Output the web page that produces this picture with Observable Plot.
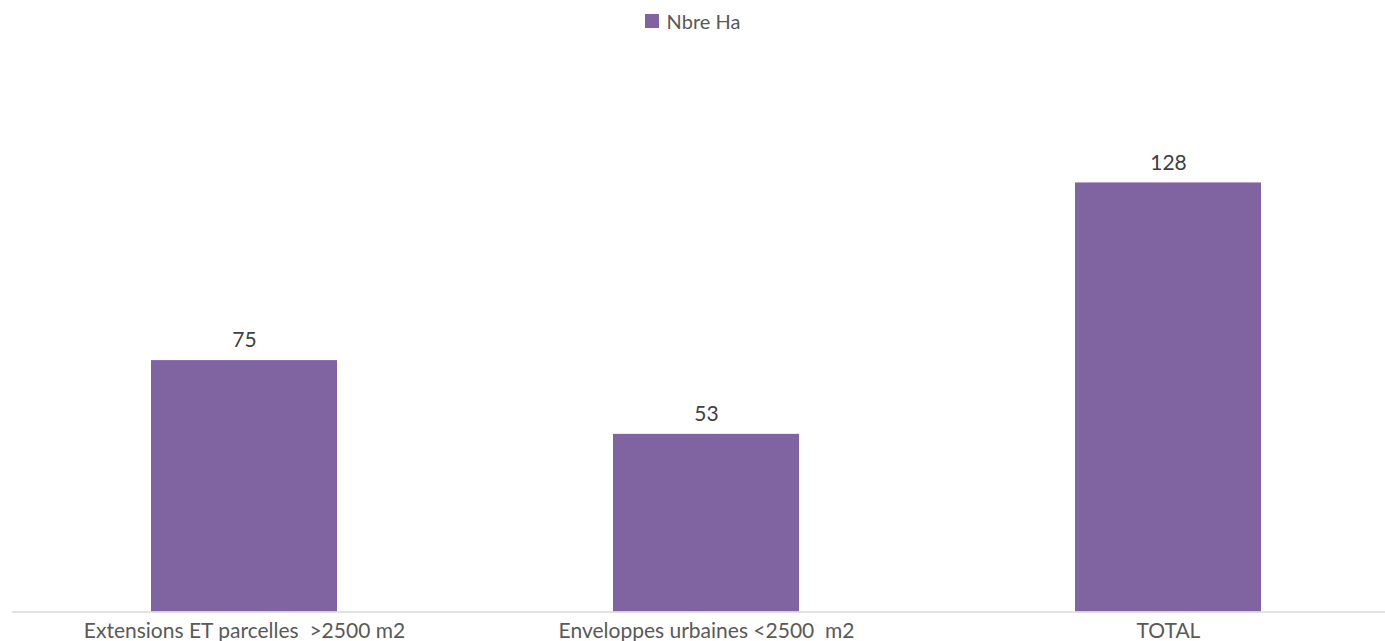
<!DOCTYPE html>
<html>
<head>
<meta charset="utf-8">
<script src="https://cdn.jsdelivr.net/npm/d3@7"></script>
<script src="https://cdn.jsdelivr.net/npm/@observablehq/plot@0.6"></script>
<style>
  html, body { margin: 0; padding: 0; background: #fff; }
  #wrap { position: relative; width: 1385px; height: 641px; overflow: hidden; }
  #legend { position: absolute; top: 9px; left: 0; width: 1385px; display: flex; justify-content: center; align-items: center;
    font-family: Lato, "Open Sans", sans-serif; font-size: 20px; color: #595959; }
  #legend .sw { display: inline-block; width: 14px; height: 14px; background: #8064A2; margin-right: 8px; }
  #chart { position: absolute; top: 0; left: 0; }
</style>
</head>
<body>
<div id="wrap">
  <div id="chart"></div>
  <div id="legend"></div>
</div>
<script>
const categories = ["Extensions ET parcelles  >2500 m2", "Enveloppes urbaines <2500  m2", "TOTAL"];
const values = [75, 53, 128];
const seriesName = "Nbre Ha";
const barColor = "#8064A2";

const data = categories.map((c, i) => ({category: c, value: values[i]}));

const W = 1385, H = 641;
const baseline = 611.5;
const pxPerUnit = 3.352;

const chart = Plot.plot({
  width: W,
  height: H,
  marginTop: baseline - 140 * pxPerUnit,
  marginBottom: H - baseline,
  marginLeft: 12,
  marginRight: 0,
  style: {fontFamily: "Lato, 'Open Sans', sans-serif", fontSize: "21px", color: "#595959", background: "transparent"},
  x: {domain: categories, range: [12, 12 + 3 * 462.5], paddingInner: 0.598, paddingOuter: 0.299, axis: null},
  y: {domain: [0, 140], axis: null},
  marks: [
    Plot.barY(data, {x: "category", y: "value", fill: barColor}),
    Plot.ruleY([0], {stroke: "#d9d9d9", strokeWidth: 1.5}),
    Plot.text(data, {x: "category", y: "value", text: d => String(d.value), dy: -20, fill: "#404040", fontSize: 21}),
    Plot.text(data, {x: "category", y: 0, text: "category", dy: 19, fill: "#595959", fontSize: 21})
  ]
});
document.getElementById("chart").appendChild(chart);

const lg = document.getElementById("legend");
const sw = document.createElement("span"); sw.className = "sw";
const lab = document.createElement("span"); lab.textContent = seriesName;
lg.appendChild(sw); lg.appendChild(lab);
</script>
</body>
</html>
